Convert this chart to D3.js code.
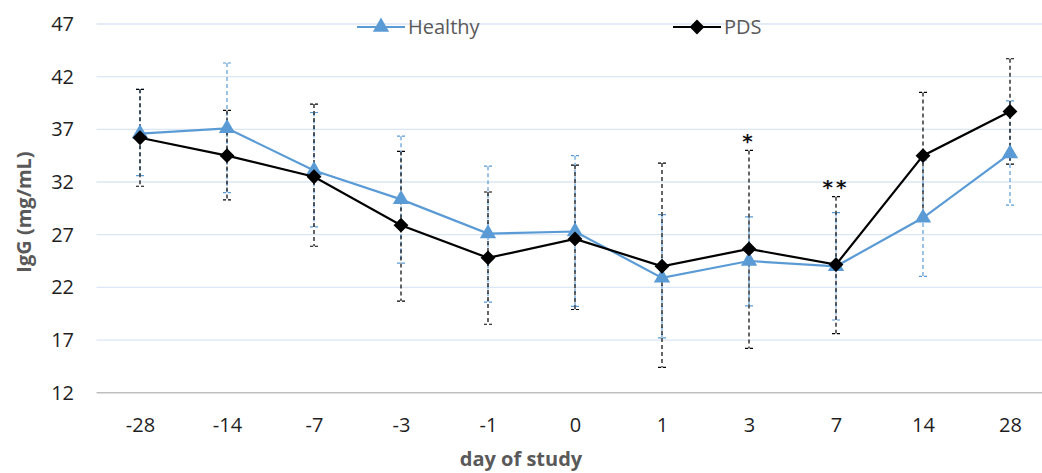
<!DOCTYPE html>
<meta charset="utf-8">
<head>
  <title>IgG by day of study</title>
</head>
<style>
  body { margin: 0; background: #fff; font-family: "Open Sans", Lato, sans-serif; }
  .grid line { stroke: #dbe7f3; stroke-width: 1.3px; }
  .tick text { fill: #1f1f1f; font-size: 20px; font-family: "Open Sans", sans-serif; }
  .axis-title { fill: #595959; font-size: 20px; font-weight: bold; }
  .legend text { fill: #595959; font-size: 20px; }
</style>
<body>
<svg width="1042" height="473"></svg>
<script src="https://cdn.jsdelivr.net/npm/d3@7"></script>
<script>
  // day labels (categories)
  var days = ["-28", "-14", "-7", "-3", "-1", "0", "1", "3", "7", "14", "28"];
  var yTicks = [12, 17, 22, 27, 32, 37, 42, 47];

  // means and error bar half-widths (upper / lower)
  var healthy    = [36.6, 37.1, 33.1, 30.35, 27.1, 27.3, 22.9, 24.5, 24.0, 28.6, 34.7];
  var healthyUp  = [4.2, 6.2, 5.5, 6.0, 6.4, 7.2, 6.0, 4.2, 5.1, 5.5, 5.0];
  var healthyLo  = [4.0, 6.1, 5.35, 6.05, 6.5, 7.1, 5.7, 4.25, 5.1, 5.55, 4.9];
  var pds        = [36.2, 34.5, 32.5, 27.9, 24.8, 26.6, 24.0, 25.65, 24.16, 34.5, 38.7];
  var pdsUp      = [4.6, 4.3, 6.9, 7.0, 6.25, 7.0, 9.8, 9.35, 6.45, 6.0, 5.0];
  var pdsLo      = [4.6, 4.2, 6.6, 7.2, 6.3, 6.7, 9.6, 9.45, 6.55, 6.0, 5.0];

  // significance marks (value is the text baseline)
  var marks = [{day: "3", text: "*", y: 35.2}, {day: "7", text: "**", y: 30.85}];

  var svg = d3.select("svg");

  var x = d3.scalePoint().domain(days).range([140, 1010]);
  var y = d3.scaleLinear().domain([12, 47]).range([392.7, 24]);
  var left = 96.5, right = 1053.5;

  // gridlines
  svg.append("g").attr("class", "grid")
    .selectAll("line").data(yTicks.slice(1)).enter().append("line")
    .attr("x1", left).attr("x2", right)
    .attr("y1", function(d) { return y(d); })
    .attr("y2", function(d) { return y(d); });

  // baseline
  svg.append("line")
    .attr("x1", left).attr("x2", right)
    .attr("y1", y(12)).attr("y2", y(12))
    .attr("stroke", "#bfbfbf").attr("stroke-width", 1.5);

  // y axis labels
  var yAxis = svg.append("g")
    .attr("transform", "translate(" + 74 + ",0)")
    .call(d3.axisLeft(y).tickValues(yTicks).tickSize(0).tickPadding(0));
  yAxis.select(".domain").remove();

  // x axis labels
  var xAxis = svg.append("g")
    .attr("transform", "translate(0," + (y(12) + 32) + ")")
    .call(d3.axisBottom(x).tickSize(0).tickPadding(0));
  xAxis.select(".domain").remove();
  xAxis.selectAll("text").attr("dy", "0.35em");

  // axis titles
  svg.append("text").attr("class", "axis-title")
    .attr("transform", "translate(24,212) rotate(-90)")
    .attr("text-anchor", "middle").attr("dy", "0.35em")
    .text("IgG (mg/mL)");
  svg.append("text").attr("class", "axis-title")
    .attr("x", 521).attr("y", 466)
    .attr("text-anchor", "middle")
    .text("day of study");

  var series = [
    {name: "Healthy", vals: healthy, up: healthyUp, lo: healthyLo, color: "#5b9bd5", sym: d3.symbolTriangle, size: 115, rot: 0},
    {name: "PDS", vals: pds, up: pdsUp, lo: pdsLo, color: "#000", sym: d3.symbolSquare, size: 110, rot: 45}
  ];

  // error bars
  series.forEach(function(s) {
    var g = svg.append("g");
    days.forEach(function(d, i) {
      var cx = x(d), top = y(s.vals[i] + s.up[i]), bot = y(s.vals[i] - s.lo[i]);
      g.append("line").attr("x1", cx).attr("x2", cx).attr("y1", top).attr("y2", bot)
        .attr("stroke", s.color).attr("stroke-width", 1.2).attr("stroke-dasharray", "4,3");
      [top, bot].forEach(function(v) {
        g.append("line").attr("x1", cx - 4).attr("x2", cx + 4).attr("y1", v).attr("y2", v)
          .attr("stroke", s.color).attr("stroke-width", 1.2).attr("stroke-dasharray", "3,2");
      });
    });
  });

  var line = d3.line()
    .x(function(d, i) { return x(days[i]); })
    .y(function(d) { return y(d); });

  // lines and markers
  series.forEach(function(s) {
    svg.append("path").datum(s.vals)
      .attr("d", line)
      .attr("fill", "none").attr("stroke", s.color).attr("stroke-width", 2.2);
    svg.append("g").selectAll("path").data(s.vals).enter().append("path")
      .attr("d", d3.symbol().type(s.sym).size(s.size))
      .attr("transform", function(d, i) {
        return "translate(" + x(days[i]) + "," + y(d) + ") rotate(" + s.rot + ")";
      })
      .attr("fill", s.color);
  });

  // significance asterisks
  svg.selectAll(".sig").data(marks).enter().append("text")
    .attr("class", "sig")
    .attr("x", function(d) { return x(d.day); })
    .attr("y", function(d) { return y(d.y); })
    .attr("text-anchor", "middle")
    .attr("font-family", "DejaVu Sans")
    .attr("font-weight", "bold")
    .attr("font-size", 20).attr("fill", "#111")
    .attr("letter-spacing", 3)
    .text(function(d) { return d.text; });

  // legend
  var legend = svg.append("g").attr("class", "legend");
  var legendPos = [357, 673];
  series.forEach(function(s, i) {
    var g = legend.append("g").attr("transform", "translate(" + legendPos[i] + ",27)");
    g.append("line").attr("x1", 0).attr("x2", 48)
      .attr("stroke", s.color).attr("stroke-width", 2.2);
    g.append("path").attr("d", d3.symbol().type(s.sym).size(s.size))
      .attr("transform", "translate(24,0) rotate(" + s.rot + ")").attr("fill", s.color);
    g.append("text").attr("x", 51).attr("dy", "0.36em").text(s.name);
  });
</script>
</body>
</html>
